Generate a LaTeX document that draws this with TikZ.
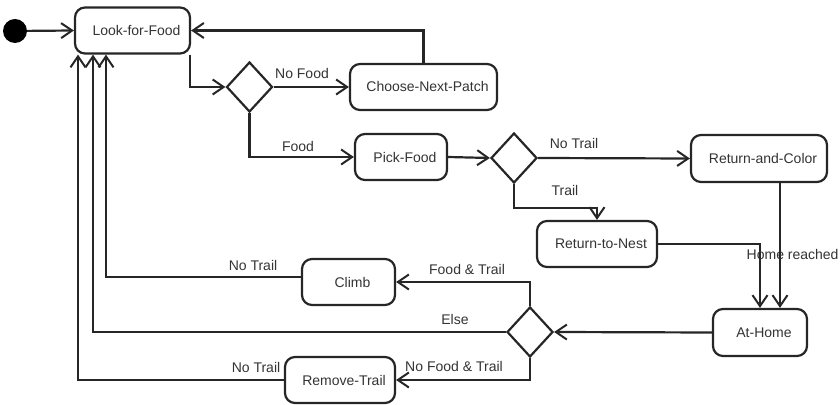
\documentclass[tikz,border=0pt]{standalone}
\usepackage{fontspec}
\setmainfont{Liberation Sans}
\usetikzlibrary{shapes.geometric,arrows.meta,calc}
\begin{document}
\begin{tikzpicture}[x=1pt,y=1pt,
  font=\fontsize{14}{16}\selectfont,
  every node/.style={text=black!80},
  state/.style={draw=black!85,line width=2.2pt,rounded corners=10pt,inner sep=0pt,execute at begin node={\hspace*{8pt}}},
  choice/.style={draw=black!85,line width=2.2pt,shape=diamond,inner sep=0pt,minimum width=46pt,minimum height=50pt},
  arr/.style={draw=black!85,line width=2.2pt,-{Straight Barb[length=11pt,width=15pt,line width=2pt]}},
  lbl/.style={inner sep=1pt}]
\useasboundingbox (0,0) rectangle (840,404);
\node[circle,fill=black,minimum size=24pt,inner sep=0pt] (start) at (15,373) {};
\node[state,minimum width=115pt,minimum height=46pt] (lff) at (132.5,373.5) {Look-for-Food};
\node[choice] (d1) at (249.5,317) {};
\node[state,minimum width=147pt,minimum height=46pt] (cnp) at (423.5,317) {Choose-Next-Patch};
\node[state,minimum width=92pt,minimum height=46pt] (pf) at (401,247) {Pick-Food};
\node[choice] (d2) at (514,246) {};
\node[state,minimum width=136pt,minimum height=47pt] (rac) at (759,245.5) {Return-and-Color};
\node[state,minimum width=120pt,minimum height=46pt] (rtn) at (597,160) {Return-to-Nest};
\node[state,minimum width=94pt,minimum height=47pt] (ah) at (760,71.5) {At-Home};
\node[choice] (d3) at (530,72) {};
\node[state,minimum width=93pt,minimum height=46pt] (climb) at (348.5,122) {Climb};
\node[state,minimum width=110pt,minimum height=46pt] (rt) at (340,24) {Remove-Trail};

\draw[arr] (start) -- (lff.west);
\draw[arr] (cnp.north) |- (lff.east);
\draw[arr] ([xshift=-1pt]lff.south east) |- (d1.west);
\draw[arr] (d1.east) -- (cnp.west);
\draw[arr] (d1.south) |- (pf.west);
\draw[arr] (pf.east) -- (d2.west);
\draw[arr] (d2.east) -- (rac.west);
\draw[arr] (d2.south) -- ++(0,-24) -| (rtn.north);
\draw[arr] (rtn.east) -| (ah.north);
\draw[arr] ([xshift=21pt]rac.south) -- ([xshift=20pt]ah.north);
\draw[arr] (ah.west) -- (d3.east);
\draw[arr] (d3.north) |- (climb.east);
\draw[arr] ([yshift=5pt]climb.west) -| ([xshift=-26.5pt]lff.south);
\draw[arr] (d3.west) -| ([xshift=-39.5pt]lff.south);
\draw[arr] (d3.south) |- (rt.east);
\draw[arr] (rt.west) -| ([xshift=-54.5pt]lff.south);

\node[lbl] (l1) at (302,330) {No Food};
\node[lbl] (l2) at (298,258) {Food};
\node[lbl] (l3) at (574,260) {No Trail};
\node[lbl] (l4) at (565,214) {Trail};
\node[lbl,anchor=west,inner sep=0pt] (l5) at (746.5,150) {Home reached};
\node[lbl] (l6) at (467,135) {Food \& Trail};
\node[lbl] (l7) at (253,139) {No Trail};
\node[lbl] (l8) at (455,85) {Else};
\node[lbl] (l9) at (454,38) {No Food \& Trail};
\node[lbl] (l10) at (256,37) {No Trail};
\end{tikzpicture}
\end{document}
